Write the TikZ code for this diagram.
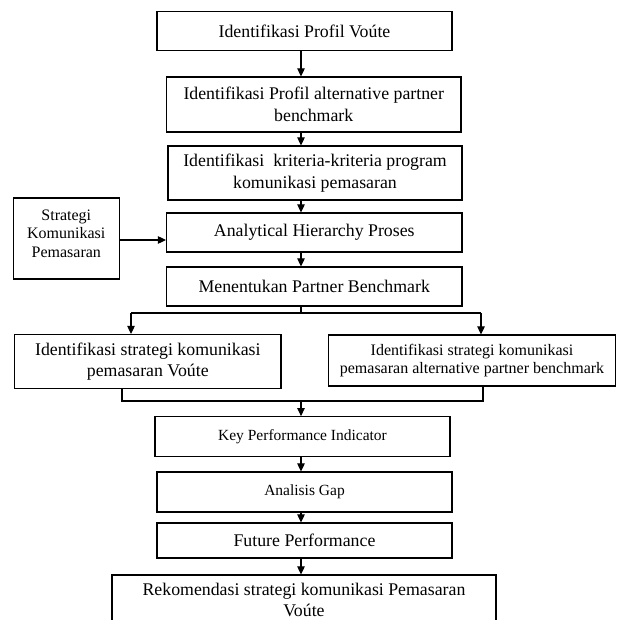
\documentclass[tikz,border=0pt]{standalone}
\usepackage{fontspec}
\setmainfont{Liberation Serif}
\usetikzlibrary{arrows.meta}
\newcommand\mainsz{\fontsize{17.8pt}{21.5pt}\selectfont}
\newcommand\stratsz{\fontsize{16pt}{18.5pt}\selectfont}
\newcommand\smallsz{\fontsize{15.5pt}{18pt}\selectfont}
\newcommand\rightsz{\fontsize{16pt}{18.5pt}\selectfont}
\begin{document}
\begin{tikzpicture}[x=1pt,y=-1pt,
  box/.style={draw, line width=1.2pt, inner sep=0pt, align=center, font=\mainsz},
  arr/.style={-{Triangle[length=8pt,width=7.5pt]}, line width=1.1pt},
  ln/.style={line width=1.1pt}]
\useasboundingbox (0,0) rectangle (617,620);
\clip (0,0) rectangle (617,620);
\fill[white] (0,0) rectangle (617,620);
% boxes
\node[box, minimum width=295pt, minimum height=39pt] (b1) at (304.5,31) {Identifikasi Profil Voúte};
\node[box, minimum width=294.5pt, minimum height=55pt] (b2) at (313.75,104.5) {Identifikasi Profil alternative partner\\benchmark};
\node[box, minimum width=294pt, minimum height=54pt] (b3) at (315,173) {Identifikasi\ \ kriteria-kriteria program\\komunikasi pemasaran};
\node[box, minimum width=295.5pt, minimum height=39pt] (ahp) at (314.25,232.5) {Analytical Hierarchy Proses};
\node[box, minimum width=295.5pt, minimum height=39pt] (men) at (314.25,286.5) {Menentukan Partner Benchmark};
\node[box, minimum width=106pt, minimum height=81pt] (strat) at (66.3,238.5) {};
\node[font=\stratsz, align=center, inner sep=0pt] (stratt) at (66.3,233.5) {Strategi\\Komunikasi\\Pemasaran};
\node[box, minimum width=266.4pt, minimum height=54pt] (left) at (147.8,361.5) {Identifikasi strategi komunikasi\\pemasaran Voúte};
\node[box, font=\rightsz, minimum width=287pt, minimum height=51pt] (right) at (472,360.5) {Identifikasi strategi komunikasi\\pemasaran alternative partner benchmark};
\node[box, font=\smallsz, minimum width=295pt, minimum height=40pt] (kpi) at (302.5,436.7) {Key Performance Indicator};
\node[box, font=\smallsz, minimum width=295pt, minimum height=40pt] (gap) at (304.5,492) {Analisis Gap};
\node[box, minimum width=295pt, minimum height=35pt] (fut) at (304.5,540.5) {Future Performance};
\node[box, minimum width=384pt, minimum height=50pt] (rek) at (304,600) {Rekomendasi strategi komunikasi Pemasaran\\Voúte};
% helper coordinates
\coordinate (ax) at (301,0);
\coordinate (sy) at (0,240);
\coordinate (sp) at (301,313);
\coordinate (spl) at (131,313);
\coordinate (spr) at (481,313);
\coordinate (jl) at (122,401);
\coordinate (jr) at (483,401);
\coordinate (jc) at (301,401);
% connectors
\draw[arr] (b1.south -| ax) -- (b2.north -| ax);
\draw[arr] (b2.south -| ax) -- (b3.north -| ax);
\draw[arr] (b3.south -| ax) -- (ahp.north -| ax);
\draw[arr] (ahp.south -| ax) -- (men.north -| ax);
\draw[arr] (strat.east |- sy) -- (ahp.west |- sy);
\draw[ln] (men.south -| ax) -- (sp);
\draw[ln] (spl) -- (spr);
\draw[arr] (spl) -- (spl |- left.north);
\draw[arr] (spr) -- (spr |- right.north);
\draw[ln] (left.south -| jl) -- (jl) -- (jr) -- (right.south -| jr);
\draw[arr] (jc) -- (kpi.north -| ax);
\draw[arr] (kpi.south -| ax) -- (gap.north -| ax);
\draw[arr] (gap.south -| ax) -- (fut.north -| ax);
\draw[arr] (fut.south -| ax) -- (rek.north -| ax);
\end{tikzpicture}
\end{document}
